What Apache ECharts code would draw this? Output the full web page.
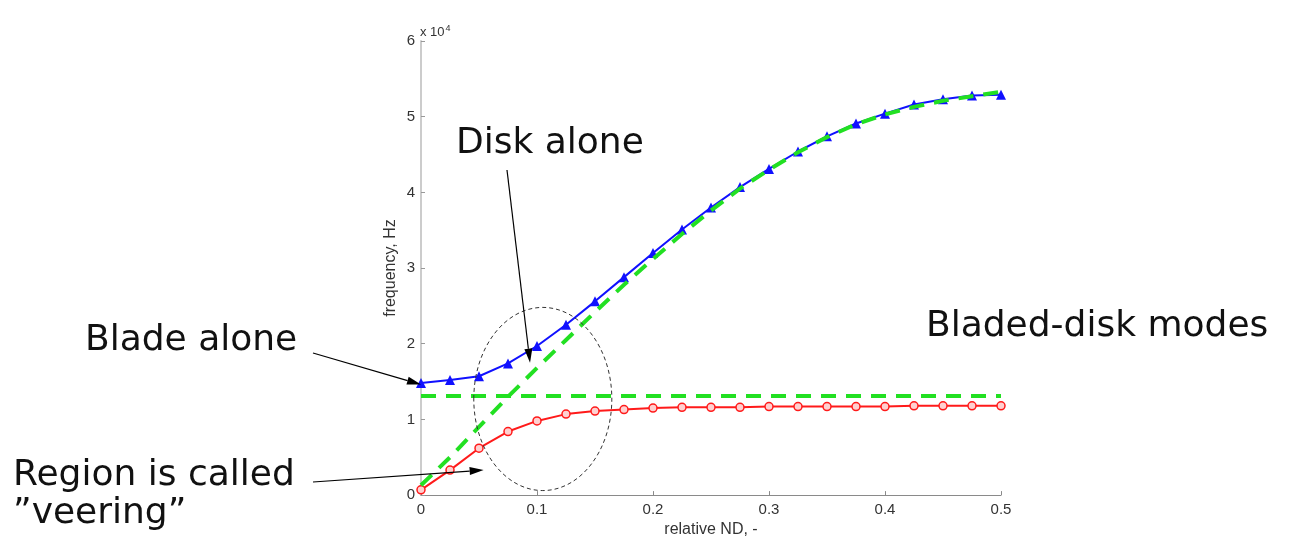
<!DOCTYPE html>
<html>
<head>
<meta charset="utf-8">
<script src="https://cdn.jsdelivr.net/npm/echarts@6/dist/echarts.min.js"></script>
<style>
  html, body { margin: 0; padding: 0; background: #fff; }
  #chart { width: 1289px; height: 543px; }
</style>
</head>
<body>
<div id="chart"></div>
<script>
// relative nodal diameter
const ndValues = [0, 0.025, 0.05, 0.075, 0.1, 0.125, 0.15, 0.175, 0.2, 0.225, 0.25,
                  0.275, 0.3, 0.325, 0.35, 0.375, 0.4, 0.425, 0.45, 0.475, 0.5];
// coupled bladed-disk modes, Hz
const upperMode = [14800, 15200, 15700, 17400, 19700, 22500, 25600, 28800, 32000, 35100, 38000,
                   40700, 43100, 45400, 47400, 49100, 50400, 51600, 52300, 52800, 52900];
const lowerMode = [700, 3300, 6200, 8400, 9800, 10700, 11100, 11300, 11500, 11600, 11600,
                   11600, 11700, 11700, 11700, 11700, 11700, 11800, 11800, 11800, 11800];
// uncoupled modes
const diskAlone = [1300, 5000, 9000, 13000, 16800, 20500, 24200, 27800, 31200, 34500, 37600,
                   40500, 43000, 45300, 47300, 49000, 50300, 51300, 52100, 52700, 53300];
const bladeAloneX = [0, 0.5];
const bladeAlone = [13100, 13100];

const xTicks = { min: 0, max: 0.5, interval: 0.1 };
const yTicks = { min: 0, max: 60000, interval: 10000 };

function pairs(xs, ys) {
    return xs.map((x, i) => [x, ys[i]]);
}

const chart = echarts.init(document.getElementById('chart'));
const axisFont = 'Liberation Sans, Arial, sans-serif';
const noteFont = 'DejaVu Sans, sans-serif';
const green = '#22e022';

chart.setOption({
    animation: false,
    backgroundColor: '#fff',
    grid: { left: 421, right: 288, top: 41, bottom: 47 },
    xAxis: {
        type: 'value',
        min: xTicks.min, max: xTicks.max, interval: xTicks.interval,
        name: 'relative ND, -',
        nameLocation: 'middle',
        nameGap: 24,
        nameTextStyle: { fontFamily: axisFont, fontSize: 16, color: '#333' },
        axisLine: { show: true, lineStyle: { color: '#8a8a8a', width: 1 } },
        axisTick: { show: true, inside: true, length: 4, lineStyle: { color: '#8a8a8a' } },
        axisLabel: { fontFamily: axisFont, fontSize: 15, color: '#333', margin: 7 },
        splitLine: { show: false }
    },
    yAxis: {
        type: 'value',
        min: yTicks.min, max: yTicks.max, interval: yTicks.interval,
        name: 'frequency, Hz',
        nameLocation: 'middle',
        nameGap: 22,
        nameTextStyle: { fontFamily: axisFont, fontSize: 16, color: '#333' },
        axisLine: { show: true, lineStyle: { color: '#cccccc', width: 2 } },
        axisTick: { show: true, inside: true, length: 4, lineStyle: { color: '#999' } },
        axisLabel: {
            fontFamily: axisFont, fontSize: 15, color: '#333', margin: 6,
            formatter: v => String(v / 10000)
        },
        splitLine: { show: false }
    },
    series: [
        {
            name: 'upper',
            type: 'line',
            data: pairs(ndValues, upperMode),
            symbol: 'triangle',
            symbolSize: 10,
            lineStyle: { color: '#1010ff', width: 2 },
            itemStyle: { color: '#1010ff' },
            z: 3
        },
        {
            name: 'lower',
            type: 'line',
            data: pairs(ndValues, lowerMode),
            symbol: 'circle',
            symbolSize: 8,
            lineStyle: { color: '#ff1a1a', width: 2 },
            itemStyle: { color: '#ffd0d0', borderColor: '#ff1a1a', borderWidth: 1.5 },
            z: 3
        },
        {
            name: 'disk alone',
            type: 'line',
            data: pairs(ndValues, diskAlone),
            showSymbol: false,
            lineStyle: { color: green, width: 4, type: [15, 10] },
            z: 4
        },
        {
            name: 'blade alone',
            type: 'line',
            data: pairs(bladeAloneX, bladeAlone),
            showSymbol: false,
            lineStyle: { color: green, width: 4, type: [15, 10] },
            z: 4
        }
    ]
});

// annotations: anchors in data coordinates, converted to pixels
function px(pt) {
    return chart.convertToPixel({ gridIndex: 0 }, pt);
}

function arrow(from, to, headLen, headW) {
    const dx = to[0] - from[0], dy = to[1] - from[1];
    const len = Math.sqrt(dx * dx + dy * dy);
    const ux = dx / len, uy = dy / len;
    const bx = to[0] - ux * headLen, by = to[1] - uy * headLen;
    return [
        {
            type: 'line',
            shape: { x1: from[0], y1: from[1], x2: bx, y2: by },
            style: { stroke: '#000', lineWidth: 1.2 },
            z: 100
        },
        {
            type: 'polygon',
            shape: { points: [to, [bx - uy * headW / 2, by + ux * headW / 2], [bx + uy * headW / 2, by - ux * headW / 2]] },
            style: { fill: '#000' },
            z: 100
        }
    ];
}

const ellC = px([0.105, 12700]);
const ellR = px([0.1645, 24800]);
const bladeTip = px([0, 14600]);
const diskTip = px([0.094, 17500]);
const regionTip = px([0.054, 3300]);

// text placed by its top edge
const note = (txt, x, y, size) => ({
    type: 'text',
    x: x, y: y,
    style: { text: txt, font: size + 'px ' + noteFont, fill: '#111' },
    z: 100
});

chart.setOption({
    graphic: [
        {
            type: 'ellipse',
            shape: { cx: ellC[0], cy: ellC[1], rx: ellR[0] - ellC[0], ry: ellC[1] - ellR[1] },
            style: { fill: 'none', stroke: '#333', lineWidth: 1, lineDash: [4, 3] },
            z: 90
        },
        ...arrow([313, 353], bladeTip, 14, 8),
        ...arrow([507, 170], diskTip, 14, 8),
        ...arrow([313, 482], regionTip, 14, 8),
        note('Blade alone', 85, 323, 36),
        note('Disk alone', 456, 126, 36),
        note('Bladed-disk modes', 926, 309, 36),
        note('Region is called', 13, 458, 36),
        note('\u201Dveering\u201D', 13, 496, 36),
        {
            type: 'text',
            x: 420, y: 24,
            style: {
                text: 'x 10{sup|4}',
                font: '13px ' + axisFont,
                fill: '#333',
                rich: { sup: { fontSize: 9, verticalAlign: 'top', padding: [0, 0, 8, 1] } }
            },
            z: 100
        }
    ]
});

window.addEventListener('resize', function () {
    chart.resize();
});
</script>
</body>
</html>
